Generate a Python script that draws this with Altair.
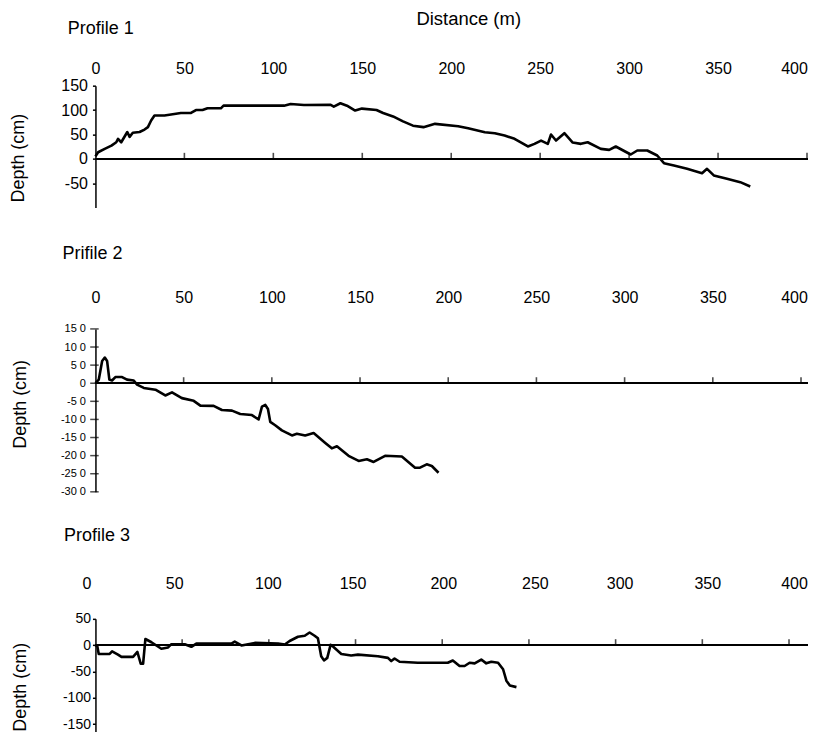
import altair as alt
import pandas as pd

FONT = "Liberation Sans"

# ---------------- data ----------------
p1_distance = [0, 1.5, 5.2, 9, 11.7, 12.7, 14.5, 17.9, 19.2, 21, 24.8, 27.6, 29.5, 31.3, 33.2,
               38.8, 42.5, 48, 53.7, 56.5, 60.2, 63, 70.5, 72, 87.3, 106, 109.7, 117.2, 132,
               134, 137.7, 141.4, 146, 149.8, 158, 161.7, 167.3, 172.9, 178.5, 184.4, 190.9,
               203.9, 209.5, 218.9, 224.5, 230, 235.6, 243.1, 246.8, 250.5, 254.3, 256.1,
               258.9, 263.6, 268.3, 272.9, 276.7, 284.1, 288.8, 292.5, 300.9, 304.6, 310.2,
               315.8, 319.6, 325.2, 332.6, 341, 343.8, 347.6, 355, 362.5, 368.1]
p1_depth = [5, 13.5, 20.5, 27, 34, 41, 34, 55, 45, 53.5, 55, 60, 65, 78.5, 89,
            89, 91, 94, 94, 100, 100, 103.6, 103.6, 109, 109, 109, 112.5, 110.5, 111,
            107, 114, 109, 99, 103, 100, 94, 87, 76.8, 68, 65, 71.7,
            66.8, 62.7, 54.5, 52.5, 47.8, 41, 25.3, 30.7, 37.5, 30.7, 49.8,
            37.5, 52.5, 33.4, 30.7, 34, 20.4, 18.4, 25.3, 8.9, 17.1, 17.1,
            6.8, -8.9, -13.7, -20.5, -29.4, -20.5, -34, -40.9, -47.8, -56.6]

p2_distance = [0, 1.9, 3.8, 5.3, 6.6, 7.9, 9.4, 11.3, 15.1, 17.9, 21.7, 23.6, 27.4, 34, 39.6,
               43.4, 49, 55.7, 59.5, 67, 71.7, 77.4, 82.1, 88.7, 92.5, 94.4, 96.3, 97.8, 99.1,
               101.9, 105.7, 111.4, 114.2, 118.9, 123.7, 130.3, 134, 136.9, 143.5, 149.2,
               153.9, 157.7, 164.2, 173.7, 181.2, 184, 187.8, 190.7, 194.5]
p2_depth = [0, 10, 61.5, 71, 61.5, 10, 7.5, 17, 17, 10, 7.5, -3.7, -13, -18, -33.8,
            -25.3, -41.2, -48.7, -61.8, -62.7, -73.9, -75.8, -85.1, -88, -100.2, -64.6, -60, -71.2, -106.8,
            -116.1, -130.2, -144.3, -139.6, -144.3, -137.7, -164.9, -179.9, -174.3, -200.5, -214.6,
            -209.9, -217.4, -200.5, -202.4, -233.3, -233.3, -224, -228.6, -247.4]

p3_distance = [0, 1.1, 1.9, 8.2, 9.6, 13, 15, 21.7, 24.2, 26.1, 27.5, 28.8, 32.3, 38, 41.9,
               43.8, 51.5, 55.3, 58.2, 78.4, 80.3, 84.2, 91.9, 105.3, 109.2, 112, 116.8, 120.7,
               123.5, 126.4, 128.3, 130.2, 131.8, 133.7, 135.6, 137, 141.8, 147.5, 151.4, 162.9,
               168.7, 170.6, 172.5, 175.4, 185.9, 203.2, 206.1, 210, 212.9, 215.8, 218.7, 222.5,
               225.4, 228.3, 232.2, 235.1, 237, 239, 242.8]
p3_depth = [0, -2.5, -16.6, -16.6, -11.7, -17.9, -22.2, -22.2, -12.9, -35.1, -35.1, 11.7, 5.6, -6.8, -4.3,
            1.9, 1.9, -3.1, 3.1, 3.1, 6.8, -0.6, 4.3, 3.1, 1.2, 8, 16, 17.9,
            24.1, 17.9, 13, -20.9, -28.9, -24.1, 0.6, -2.5, -16.6, -19.7, -17.9, -20.9,
            -24.1, -30.2, -25.3, -31.5, -33.3, -33.3, -29, -39.5, -39.5, -33.3, -34.5, -27.2,
            -34.5, -31.5, -33.3, -45.7, -67.3, -76.5, -79.6]

distance_ticks = [50, 100, 150, 200, 250, 300, 350, 400]
distance_labels = [0, 50, 100, 150, 200, 250, 300, 350, 400]
p1_y_ticks = [150, 100, 50, 0, -50]
p2_y_ticks = [150, 100, 50, 0, -50, -100, -150, -200, -250, -300]
p3_y_ticks = [50, 0, -50, -100, -150]

titles = ["Profile 1", "Prifile 2", "Profile 3"]
x_title = "Distance (m)"
y_title = "Depth (cm)"

HYPHEN = "(datum.value < 0 ? '-' : '') + abs(datum.value)"
SPACED = "datum.value == 0 ? '0' : (datum.value < 0 ? '-' : '') + (abs(datum.value) / 10) + ' 0'"

# small per-label horizontal shifts of the top labels (style only)
P1_LABEL_SHIFT = {400: -13}
P2_LABEL_SHIFT = {400: -7}
P3_LABEL_SHIFT = {0: -9, 50: -8, 100: -1, 150: -3, 200: 1, 250: 6, 300: 4, 350: 5, 400: 5}


def panel(dist, depth, title, title_dx, title_offset, width, height, ydomain, yticks,
          label_pad, y_label_size, y_label_expr, y_tick_size, y_label_pad, y_title_x, y_title_y,
          show_x_title=False, label_shift=None, cross_ticks=False):
    line_df = pd.DataFrame({"d": dist, "v": depth})
    tick_df = pd.DataFrame({"d": distance_ticks})

    xaxis_kwargs = dict(orient="top", values=distance_labels, tickCount=100, domain=False,
                        ticks=False, tickSize=0, grid=False, labelPadding=label_pad,
                        labelFontSize=16, labelFont=FONT, labelColor="black", labelFlush=False,
                        labelOverlap=False, labelBound=False)
    if label_shift:
        xaxis_kwargs["labelOffset"] = {
            "condition": [{"test": f"datum.value == {k}", "value": s}
                          for k, s in label_shift.items() if s != 0],
            "value": 0}
    if show_x_title:
        xaxis_kwargs.update(title=x_title, titleX=373, titleY=-57.5, titleAlign="center",
                            titleBaseline="bottom", titleFontSize=18.5, titleFont=FONT,
                            titleFontWeight="normal", titleColor="black")
    else:
        xaxis_kwargs.update(title=None)
    x_enc = alt.X("d:Q", scale=alt.Scale(domain=[0, 400], nice=False, zero=False),
                  axis=alt.Axis(**xaxis_kwargs))

    yaxis = alt.Axis(values=yticks, tickCount=100, grid=False, domain=True, domainColor="black",
                     domainWidth=1.5, ticks=not cross_ticks, tickColor="black", tickWidth=1.5,
                     tickSize=y_tick_size, labelPadding=y_label_pad, labelFontSize=y_label_size,
                     labelFont=FONT, labelColor="black", labelExpr=y_label_expr,
                     labelOverlap=False, labelFlush=False, labelBound=False,
                     title=y_title, titleFont=FONT, titleFontSize=18, titleFontWeight="normal",
                     titleColor="black", titleAngle=270, titleX=y_title_x, titleY=y_title_y,
                     titleAlign="center", titleBaseline="middle")
    y_enc = alt.Y("v:Q", scale=alt.Scale(domain=ydomain, nice=False, zero=False), axis=yaxis)

    line = alt.Chart(line_df).mark_line(color="black", strokeWidth=2.6, strokeJoin="round").encode(
        x=x_enc, y=y_enc)
    zero = alt.Chart(line_df).mark_rule(color="black", strokeWidth=1.8).encode(
        x=alt.datum(0), x2=alt.value(713), y=alt.datum(0))
    ticks = alt.Chart(tick_df).mark_tick(orient="vertical", color="black", size=6, thickness=1.6,
                                         yOffset=-3).encode(x=x_enc, y=alt.datum(0))
    layers = [line, zero, ticks]
    if cross_ticks:
        ytick_df = pd.DataFrame({"v": yticks})
        layers.append(alt.Chart(ytick_df).mark_tick(orient="horizontal", color="black", size=8.5,
                                                    thickness=1.5, xOffset=-1).encode(
            x=alt.datum(0), y=y_enc))

    return alt.layer(*layers).properties(
        width=width, height=height,
        title=alt.TitleParams(title, anchor="start", frame="group", dx=title_dx, offset=title_offset,
                              fontSize=18, font=FONT, fontWeight="normal", color="black"))


c1 = panel(p1_distance, p1_depth, titles[0], -27.7, -28.8, 712, 122, [-100, 150], p1_y_ticks,
           9.5, 16, HYPHEN, 3, 5, -77, 72, show_x_title=True, label_shift=P1_LABEL_SHIFT)
c2 = panel(p2_distance, p2_depth, titles[1], -33, 27.1, 706, 163, [-300, 150], p2_y_ticks,
           23, 11, SPACED, 4, 10, -75, 75, cross_ticks=True, label_shift=P2_LABEL_SHIFT)
c3 = panel(p3_distance, p3_depth, titles[2], -31.5, 30.5, 694, 118.6, [-175, 50], p3_y_ticks,
           27, 14, HYPHEN, 3, 2, -74.7, 68, label_shift=P3_LABEL_SHIFT)

chart = alt.vconcat(alt.vconcat(c1, c2, spacing=36.4), c3, spacing=29.5).properties(
    padding={"left": 1.5, "top": 0.5, "right": 0, "bottom": -6.2}
).configure(background="white").configure_view(stroke=None)

chart.save("out.html", embed_options={"renderer": "svg", "actions": False})
